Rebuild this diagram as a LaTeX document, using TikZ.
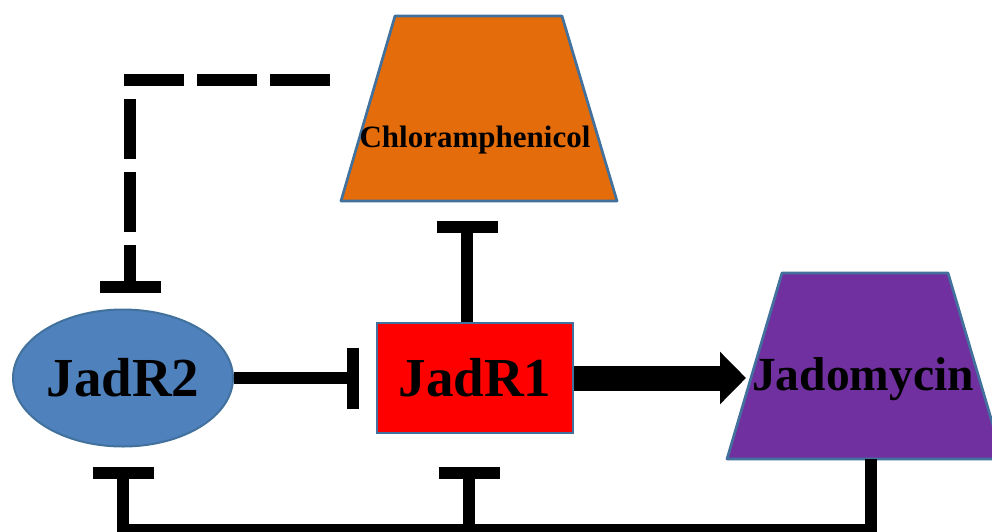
\documentclass[tikz,border=0pt]{standalone}
\usepackage{fontspec}
\setmainfont{Liberation Serif}
\usetikzlibrary{shapes.geometric,arrows.meta}
\definecolor{chlorange}{HTML}{E46C0A}
\definecolor{jadpurple}{HTML}{7030A0}
\definecolor{rone}{HTML}{FF0000}
\definecolor{rtwo}{HTML}{4F81BD}
\definecolor{edgeblue}{HTML}{41719C}

\begin{document}
\begin{tikzpicture}[x=1pt,y=-1pt,
    drug/.style={draw=edgeblue, line width=2.7pt, line join=round},
    inhib/.style={line width=12pt, -{Bar[width=61pt,line width=12pt]}},
    big/.style={font=\fontsize{55}{60}\selectfont\bfseries}]
  \useasboundingbox (0,0) rectangle (992,531);
  % Trapeze
  \draw[drug, fill=chlorange] (395,16) -- (562,16) -- (617,201) -- (341,201) -- cycle;
  \draw[drug, fill=jadpurple] (782,273) -- (948,273) -- (1003,459) -- (727,459) -- cycle;
  % Knoten
  \node[anchor=base, font=\fontsize{31}{34}\selectfont\bfseries] (chl)
        at (475,147) {Chloramphenicol};
  \node[anchor=base, font=\fontsize{47.5}{52}\selectfont\bfseries] (jad)
        at (863,390) {Jadomycin};
  \node[draw=edgeblue, line width=2.7pt, fill=rone, minimum width=196pt,
        minimum height=110pt, big] (r1) at (475,378) {JadR1};
  \node[ellipse, draw=edgeblue, line width=2pt, fill=rtwo, minimum width=220pt,
        minimum height=137pt, inner sep=0pt, big] (r2) at (123,378) {JadR2};
  % Hilfspunkte
  \coordinate (chlbot) at (467,201);
  \coordinate (jadin) at (746,380);
  \coordinate (jadbot) at (871,459);
  \coordinate (dstart) at (330,80);
  \coordinate (fb) at (871,530);
  \coordinate (br) at (r1.south |- fb);
  % Verbindungen
  \draw[inhib] (r2.east) -- ([xshift=-17pt]r1.west);
  \draw[inhib] ([xshift=-8pt]r1.north) -- ([yshift=-20pt]chlbot);
  \draw[line width=25pt, -{Triangle[width=51pt,length=26pt]}] (r1.east) -- (r1.east -| jadin);
  \draw[inhib, dash pattern=on 60pt off 13pt] (dstart) -| ([xshift=7pt,yshift=16pt]r2.north);
  \draw[inhib] (jadbot) -- (fb) -| ([yshift=-19pt]r2.south);
  \draw[inhib] ([xshift=-6pt]br) -- ([xshift=-6pt,yshift=-33pt]r1.south);
\end{tikzpicture}
\end{document}
